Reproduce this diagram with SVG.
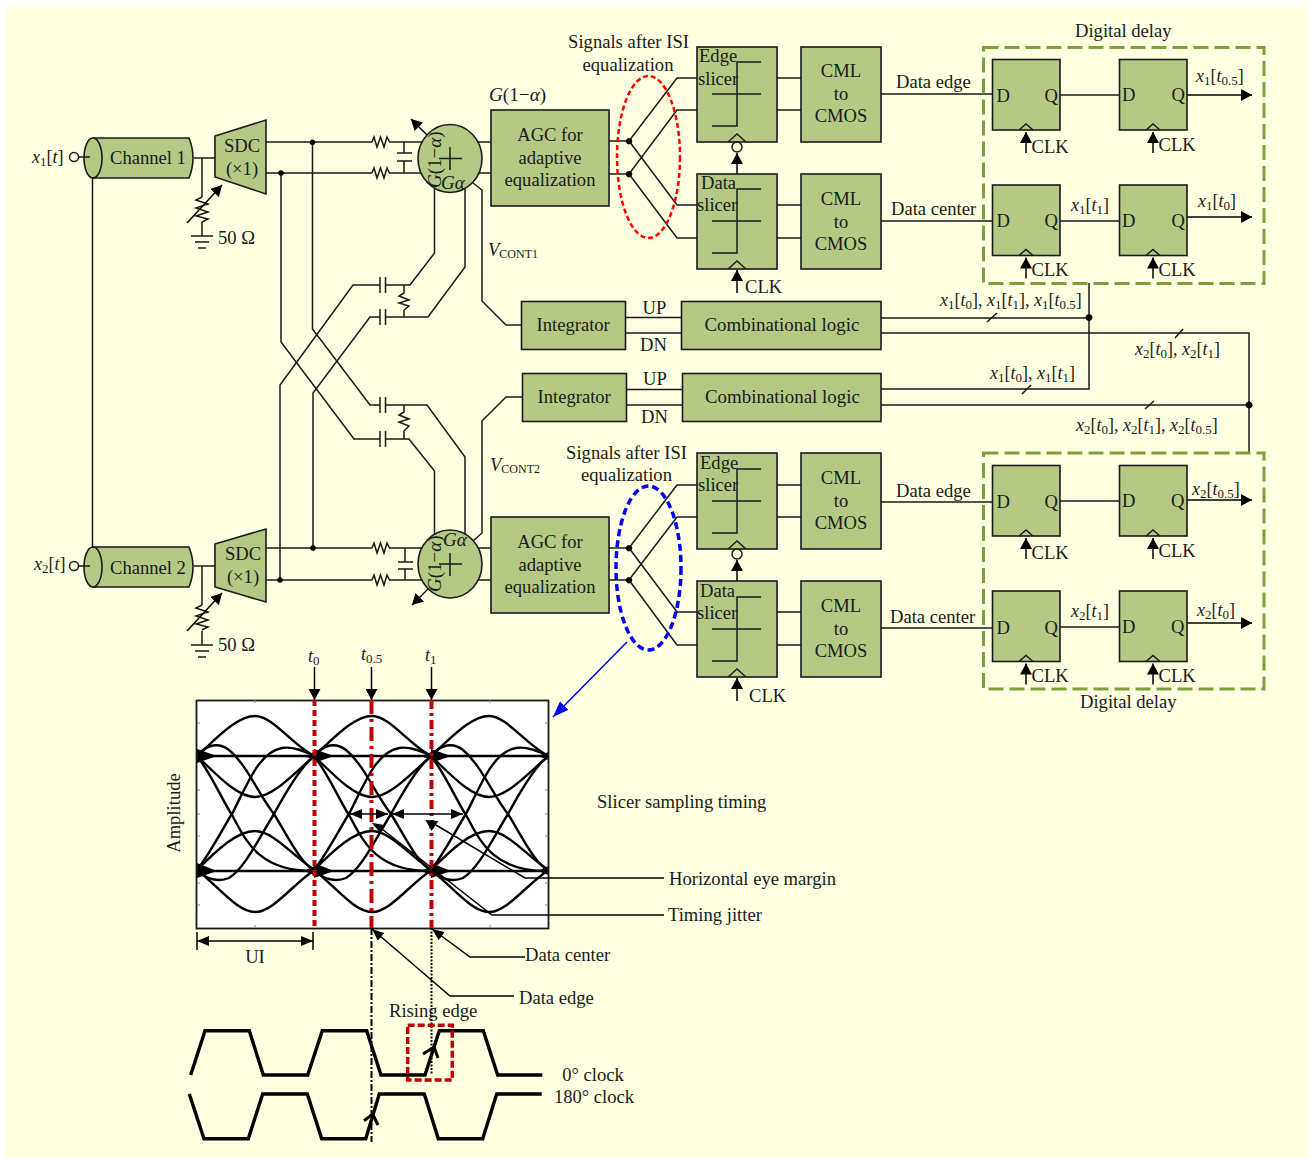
<svg xmlns="http://www.w3.org/2000/svg" width="1314" height="1158" viewBox="0 0 1314 1158">
<style>
text{font-family:"Liberation Serif","Times New Roman",serif;font-size:18.6px;fill:#1a1a1a}
.c{text-anchor:middle}
.m{font-size:18px}
.i{font-style:italic}
.s{font-size:12px}
.m .s{font-size:13px}
.b{fill:#b5c985;stroke:#1a1a1a;stroke-width:1.6}
.w{fill:none;stroke:#1a1a1a;stroke-width:1.5}
.k{fill:none;stroke:#000;stroke-width:1.5}
.d{fill:#000}
.g{fill:none;stroke:#7f9f3f;stroke-width:3;stroke-dasharray:15 6}
.clk{fill:none;stroke:#000;stroke-width:3.4;stroke-linejoin:miter}
.tr{fill:none;stroke:#000;stroke-width:2.4}
.rd{fill:none;stroke:#c00000;stroke-width:4}
.tk{fill:none;stroke:#888;stroke-width:1}
</style>
<defs>
<marker id="ah" viewBox="0 0 12 10" refX="12" refY="5" markerWidth="12" markerHeight="10" markerUnits="userSpaceOnUse" orient="auto-start-reverse"><path d="M0 0L12 5L0 10Z" fill="#000"/></marker>
<marker id="al" viewBox="0 0 11 12" refX="11" refY="6" markerWidth="11" markerHeight="12" markerUnits="userSpaceOnUse" orient="auto-start-reverse"><path d="M0 0L11 6L0 12Z" fill="#000"/></marker>
<marker id="ab" viewBox="0 0 16 12" refX="16" refY="6" markerWidth="16" markerHeight="12" markerUnits="userSpaceOnUse" orient="auto-start-reverse"><path d="M0 0L16 6L0 12Z" fill="#0000ff"/></marker>
<path id="rh" class="w" d="M0 0L2 -5L5 5L8.5 -5L12 5L15 -5L17.5 0L19 0"/>
<g id="slc"><path class="w" d="M64 15H40V79H15M15 47H64"/><path class="w" d="M31 95L40 87L49 95"/></g>
<g id="ckin"><path class="w" d="M-7 0L0 -6L7 0"/><path class="k" d="M0 23V2" marker-end="url(#al)"/></g>
<g id="gnd"><path class="w" d="M0 0V14M-11 14H11M-7 20H7M-4 26H4"/></g>
<g id="var"><path class="w" d="M0 0L-6 3L6 7L-6 11L6 15L-6 19L6 22L0 25"/><path class="k" d="M-15 26L20 -12" marker-end="url(#al)"/></g>
<g id="ui">
<path class="tr" d="M0 756C20 738 40 716 58 716C76 716 95 745 117.500 756M0 870C20 885 40 912 58 912C76 912 95 885 117.500 870M0 756H117.500M0 871H117.500"/>
<path class="tr" d="M0 756C20 775 40 797 58 797C76 797 95 775 117.500 756M0 870C20 850 40 831 58 831C76 831 95 855 117.500 870"/>
<path class="tr" d="M0 756C15 775 25 800 35 815C48 838 60 872 117.500 871M0 756C10 744 22 742 32 750C50 765 62 795 77 814C90 835 105 866 117.500 870"/>
<path class="tr" d="M0 870C12 855 25 830 36 812C50 785 62 752 85 748C95 746 110 752 117.500 756M0 870C10 880 22 882 32 878C48 868 62 838 77 814C90 790 105 765 117.500 756"/>
<path class="d" d="M0 749L20 756L0 763ZM117.500 752L107 756L117.500 760ZM0 863L20 871L0 878ZM117.500 866L107 871L117.500 875Z"/>
</g>
</defs>
<rect width="1314" height="1158" fill="#fff"/>
<rect x="6" y="6" width="1302" height="1152" fill="#ffffe1"/>

<g id="connectors">
<path class="w" d="M92.500 178V547M194 158H215M202 158V197M194 566H215M202 566V605"/>
<path class="w" d="M266 142H372M391 142H422M266 173H372M391 173H422M404 142V153M404 161V173M397 153H412M397 161H412"/>
<path class="w" d="M266 548H372M391 548H422M266 580H372M391 580H422M405 548V562M405 569V580M398 562H413M398 569H413"/>
<use href="#rh" x="372" y="142"/><use href="#rh" x="372" y="173"/><use href="#rh" x="372" y="548"/><use href="#rh" x="372" y="580"/>
<path class="w" d="M478 142H491M478 173H491M478 548H491M478 580H491"/>
<path class="w" d="M434.500 188V253L410 285H385.500M380 285H353L280 385V580"/>
<path class="w" d="M465 188V267L428 317H385.500M380 317H370L313 393V548"/>
<path class="w" d="M312.500 142V329L370 405H380M385.500 405H427L465 457V535"/>
<path class="w" d="M281 173V342L354 439H380M385.500 439H409L434.500 471V535"/>
<path class="w" d="M380 277V293M385.500 277V293M380 309V325M385.500 309V325M380 397V413M385.500 397V413M380 431V447M385.500 431V447"/>
<path class="w" d="M404 285V293L399 296L409 300L399 303L409 306L404 310V317M404 405V412L399 415L409 419L399 422L409 426L404 431V439"/>
<path class="w" d="M473 183L482 190V301L506 325H521.500M473 541L482 533V421L506 397H522"/>
<path class="k" d="M427 135L411 119" marker-end="url(#al)"/>
<path class="k" d="M428 589L412 605" marker-end="url(#al)"/>
<path class="w" d="M609 141H629L677 78H697M609 174H629L677 110H697M629 141L677 205H697M629 174L677 238H697"/>
<path class="w" d="M609 548H629L677 485H697M609 580H629L677 517H697M629 548L677 612H697M629 580L677 645H697"/>
<path class="w" d="M777 78H801M777 110H801M777 205H801M777 238H801M777 485H801M777 517H801M777 612H801M777 645H801"/>
<path class="w" d="M881 94H992M1060 95H1120M881 221H992M1060 221H1120M881 502H992M1060 501H1120M881 628H992M1060 627H1120"/>
<path class="k" d="M1187 95H1252" marker-end="url(#al)"/><path class="k" d="M1187 217H1252" marker-end="url(#al)"/>
<path class="k" d="M1187 500H1252" marker-end="url(#al)"/><path class="k" d="M1187 623H1252" marker-end="url(#al)"/>
<path class="w" d="M625 317.500H682M625 333H682M626 389.500H683M626 405H683"/>
<path class="w" d="M881 318H1089M881 333H1249V452M881 389H1089V283M881 405H1249"/>
<path class="w" d="M987 322L997 313M1175 338L1183 329M1022 394L1031 385M1145 409L1154 401"/>
<path class="k" d="M737 174V153" marker-end="url(#al)"/><path class="k" d="M737 293V270" marker-end="url(#al)"/>
<path class="k" d="M737 581V560" marker-end="url(#al)"/><path class="k" d="M737 701V678" marker-end="url(#al)"/>
<path d="M627 642L553 717" fill="none" stroke="#0000ff" stroke-width="1.500" marker-end="url(#ab)"/>
<path class="d" d="M312.500 139.500a2.800 2.800 0 1 0 .01 0ZM281 170.200a2.800 2.800 0 1 0 .01 0ZM313 545.200a2.800 2.800 0 1 0 .01 0ZM280 577.200a2.800 2.800 0 1 0 .01 0ZM629 138a3.200 3.200 0 1 0 .01 0ZM629 171a3.200 3.200 0 1 0 .01 0ZM629 545a3.200 3.200 0 1 0 .01 0ZM629 577a3.200 3.200 0 1 0 .01 0ZM1089 314a3.500 3.500 0 1 0 .01 0ZM1249 401.500a3.500 3.500 0 1 0 .01 0Z"/>
</g>

<g id="ch1"><path class="b" d="M93 138H189Q197 158 189 178H93Z"/><ellipse class="b" cx="93" cy="158" rx="9" ry="20"/><circle cx="74" cy="157" r="4.500" fill="none" stroke="#1a1a1a" stroke-width="1.500"/><path class="w" d="M78.500 157H90"/><text x="110" y="164">Channel 1</text><text class="m" x="32" y="163"><tspan class="i">x</tspan><tspan class="s" dy="3">1</tspan><tspan dy="-3">[</tspan><tspan class="i">t</tspan>]</text></g>
<g id="ch2"><path class="b" d="M93 547H189Q197 567 189 587H93Z"/><ellipse class="b" cx="93" cy="567" rx="9" ry="20"/><circle cx="74" cy="566" r="4.500" fill="none" stroke="#1a1a1a" stroke-width="1.500"/><path class="w" d="M78.500 566H90"/><text x="110" y="574">Channel 2</text><text class="m" x="34" y="570"><tspan class="i">x</tspan><tspan class="s" dy="3">2</tspan><tspan dy="-3">[</tspan><tspan class="i">t</tspan>]</text></g>
<g id="sdc1"><path class="b" d="M215 136L266 120V194L215 177Z"/><text class="c" x="242" y="152">SDC</text><text class="c" x="242" y="175">(×1)</text></g>
<g id="sdc2"><path class="b" d="M215 544L266 529V602L215 587Z"/><text class="c" x="243" y="560">SDC</text><text class="c" x="243" y="583">(×1)</text></g>
<g id="r1"><use href="#var" x="202" y="197"/><use href="#gnd" x="202" y="222"/><text x="218" y="244">50 Ω</text></g>
<g id="r2"><use href="#var" x="202" y="605"/><use href="#gnd" x="202" y="631"/><text x="218" y="651">50 Ω</text></g>
<g id="mix1"><ellipse class="b" cx="450" cy="158.500" rx="32" ry="34"/><path class="w" d="M439 158.500H462M450 147V170"/><text class="i" x="441" y="189" style="font-size:19px">Gα</text><text transform="translate(441,188) rotate(-90)" style="font-size:19px"><tspan class="i">G</tspan>(1−<tspan class="i">α</tspan>)</text></g>
<g id="mix2"><ellipse class="b" cx="450" cy="564" rx="32" ry="34"/><path class="w" d="M439 564H462M450 553V576"/><text class="i" x="443" y="546" style="font-size:19px">Gα</text><text transform="translate(441,592) rotate(-90)" style="font-size:19px"><tspan class="i">G</tspan>(1−<tspan class="i">α</tspan>)</text></g>
<g id="agc1"><rect class="b" x="491" y="110" width="118" height="96"/><text class="c" x="550" y="141">AGC for</text><text class="c" x="550" y="164">adaptive</text><text class="c" x="550" y="186">equalization</text></g>
<g id="agc2"><rect class="b" x="491" y="517" width="118" height="96"/><text class="c" x="550" y="548">AGC for</text><text class="c" x="550" y="571">adaptive</text><text class="c" x="550" y="593">equalization</text></g>
<g id="int1"><rect class="b" x="521.500" y="301.500" width="104" height="48"/><text x="536.500" y="331">Integrator</text></g>
<g id="int2"><rect class="b" x="522.500" y="373.500" width="104" height="48"/><text x="537.500" y="403">Integrator</text></g>
<g id="cl1"><rect class="b" x="681.500" y="301.500" width="199.500" height="48"/><text x="704.500" y="331" style="font-size:18.900px">Combinational logic</text></g>
<g id="cl2"><rect class="b" x="682.500" y="373.500" width="198.500" height="48"/><text x="705" y="403" style="font-size:18.900px">Combinational logic</text></g>
<g id="sl1"><rect class="b" x="697" y="47" width="80" height="95"/><use href="#slc" x="697" y="47"/><text x="699" y="62">Edge</text><text x="698" y="85">slicer</text></g>
<g id="sl2"><rect class="b" x="697" y="174" width="80" height="95"/><use href="#slc" x="697" y="174"/><text x="701" y="189">Data</text><text x="697" y="211">slicer</text></g>
<g id="sl3"><rect class="b" x="697" y="453" width="80" height="96"/><use href="#slc" x="697" y="454"/><text x="700" y="469">Edge</text><text x="698" y="491">slicer</text></g>
<g id="sl4"><rect class="b" x="697" y="581" width="80" height="96"/><use href="#slc" x="697" y="582"/><text x="700" y="597">Data</text><text x="697" y="619">slicer</text></g>
<circle cx="737" cy="147" r="5" fill="none" stroke="#1a1a1a" stroke-width="1.500"/><circle cx="737" cy="554" r="5" fill="none" stroke="#1a1a1a" stroke-width="1.500"/>
<text x="745" y="293">CLK</text><text x="749" y="702">CLK</text>
<g id="cml1"><rect class="b" x="801" y="47" width="80" height="95"/><text class="c" x="841" y="77">CML</text><text class="c" x="841" y="100">to</text><text class="c" x="841" y="122">CMOS</text></g>
<g id="cml2"><rect class="b" x="801" y="174" width="80" height="95"/><text class="c" x="841" y="205">CML</text><text class="c" x="841" y="228">to</text><text class="c" x="841" y="250">CMOS</text></g>
<g id="cml3"><rect class="b" x="801" y="453" width="80" height="96"/><text class="c" x="841" y="484">CML</text><text class="c" x="841" y="507">to</text><text class="c" x="841" y="529">CMOS</text></g>
<g id="cml4"><rect class="b" x="801" y="581" width="80" height="96"/><text class="c" x="841" y="612">CML</text><text class="c" x="841" y="635">to</text><text class="c" x="841" y="657">CMOS</text></g>

<g id="ff1"><rect class="b" x="992.500" y="59.500" width="67.500" height="70.500"/><text x="996.500" y="102">D</text><text x="1044.500" y="102">Q</text><use href="#ckin" x="1026" y="130"/><text x="1031.500" y="153">CLK</text></g>
<g id="ff2"><rect class="b" x="1119.500" y="59.500" width="67.500" height="70.500"/><text x="1122" y="101">D</text><text x="1171.500" y="101">Q</text><use href="#ckin" x="1153" y="130"/><text x="1158.500" y="151">CLK</text></g>
<g id="ff3"><rect class="b" x="992.500" y="185" width="67.500" height="70.500"/><text x="996.500" y="227">D</text><text x="1044.500" y="227">Q</text><use href="#ckin" x="1026" y="255.500"/><text x="1031.500" y="276">CLK</text></g>
<g id="ff4"><rect class="b" x="1119.500" y="185" width="67.500" height="70.500"/><text x="1122" y="227">D</text><text x="1171.500" y="227">Q</text><use href="#ckin" x="1153" y="255.500"/><text x="1158.500" y="276">CLK</text></g>
<g id="ff5"><rect class="b" x="992.500" y="465.500" width="67.500" height="70.500"/><text x="996.500" y="508">D</text><text x="1044.500" y="508">Q</text><use href="#ckin" x="1026" y="536"/><text x="1031.500" y="559">CLK</text></g>
<g id="ff6"><rect class="b" x="1119.500" y="465.500" width="67.500" height="70.500"/><text x="1122" y="507">D</text><text x="1171" y="507">Q</text><use href="#ckin" x="1153" y="536"/><text x="1158.500" y="557">CLK</text></g>
<g id="ff7"><rect class="b" x="992.500" y="591" width="67.500" height="70.500"/><text x="996.500" y="634">D</text><text x="1044.500" y="634">Q</text><use href="#ckin" x="1026" y="661.500"/><text x="1031.500" y="682">CLK</text></g>
<g id="ff8"><rect class="b" x="1119.500" y="591" width="67.500" height="70.500"/><text x="1122" y="633">D</text><text x="1171" y="633">Q</text><use href="#ckin" x="1153" y="661.500"/><text x="1158.500" y="682">CLK</text></g>
<g id="delay1"><rect class="g" x="983.500" y="47.500" width="280.500" height="236"/><text x="1075" y="37">Digital delay</text></g>
<g id="delay2"><rect class="g" x="983.500" y="453" width="280.500" height="236"/><text x="1080" y="708">Digital delay</text></g>
<ellipse id="isi1" cx="648.500" cy="157" rx="31.500" ry="81" fill="none" stroke="#ff0000" stroke-width="2.500" stroke-dasharray="5 3"/>
<ellipse id="isi2" cx="648.500" cy="568" rx="32.500" ry="82" fill="none" stroke="#0000ff" stroke-width="3.500" stroke-dasharray="7 4"/>

<g id="labels">
<text class="c" x="628.500" y="48">Signals after ISI</text><text class="c" x="628" y="71">equalization</text>
<text class="c" x="626.500" y="459">Signals after ISI</text><text class="c" x="626.500" y="481">equalization</text>
<text x="489" y="101" style="font-size:19.200px"><tspan class="i">G</tspan>(1−<tspan class="i">α</tspan>)</text>
<text x="488" y="256"><tspan class="i">V</tspan><tspan class="s" dy="2">CONT1</tspan></text>
<text x="490" y="471"><tspan class="i">V</tspan><tspan class="s" dy="2">CONT2</tspan></text>
<text x="642.500" y="314">UP</text><text x="640" y="351">DN</text><text x="643" y="385">UP</text><text x="641" y="423">DN</text>
<text x="896" y="88">Data edge</text><text x="891" y="215">Data center</text><text x="896" y="497">Data edge</text><text x="890" y="623">Data center</text>
<text class="m" x="1196" y="82"><tspan class="i">x</tspan><tspan class="s" dy="3">1</tspan><tspan dy="-3">[</tspan><tspan class="i">t</tspan><tspan class="s" dy="3">0.5</tspan><tspan dy="-3">]</tspan></text>
<text class="m" x="1071" y="211"><tspan class="i">x</tspan><tspan class="s" dy="3">1</tspan><tspan dy="-3">[</tspan><tspan class="i">t</tspan><tspan class="s" dy="3">1</tspan><tspan dy="-3">]</tspan></text>
<text class="m" x="1198" y="207"><tspan class="i">x</tspan><tspan class="s" dy="3">1</tspan><tspan dy="-3">[</tspan><tspan class="i">t</tspan><tspan class="s" dy="3">0</tspan><tspan dy="-3">]</tspan></text>
<text class="m" x="1192" y="495"><tspan class="i">x</tspan><tspan class="s" dy="3">2</tspan><tspan dy="-3">[</tspan><tspan class="i">t</tspan><tspan class="s" dy="3">0.5</tspan><tspan dy="-3">]</tspan></text>
<text class="m" x="1071" y="617"><tspan class="i">x</tspan><tspan class="s" dy="3">2</tspan><tspan dy="-3">[</tspan><tspan class="i">t</tspan><tspan class="s" dy="3">1</tspan><tspan dy="-3">]</tspan></text>
<text class="m" x="1197" y="616"><tspan class="i">x</tspan><tspan class="s" dy="3">2</tspan><tspan dy="-3">[</tspan><tspan class="i">t</tspan><tspan class="s" dy="3">0</tspan><tspan dy="-3">]</tspan></text>
<text class="m" x="940" y="306"><tspan class="i">x</tspan><tspan class="s" dy="3">1</tspan><tspan dy="-3">[</tspan><tspan class="i">t</tspan><tspan class="s" dy="3">0</tspan><tspan dy="-3">], </tspan><tspan class="i">x</tspan><tspan class="s" dy="3">1</tspan><tspan dy="-3">[</tspan><tspan class="i">t</tspan><tspan class="s" dy="3">1</tspan><tspan dy="-3">], </tspan><tspan class="i">x</tspan><tspan class="s" dy="3">1</tspan><tspan dy="-3">[</tspan><tspan class="i">t</tspan><tspan class="s" dy="3">0.5</tspan><tspan dy="-3">]</tspan></text>
<text class="m" x="1135" y="355"><tspan class="i">x</tspan><tspan class="s" dy="3">2</tspan><tspan dy="-3">[</tspan><tspan class="i">t</tspan><tspan class="s" dy="3">0</tspan><tspan dy="-3">], </tspan><tspan class="i">x</tspan><tspan class="s" dy="3">2</tspan><tspan dy="-3">[</tspan><tspan class="i">t</tspan><tspan class="s" dy="3">1</tspan><tspan dy="-3">]</tspan></text>
<text class="m" x="990" y="379"><tspan class="i">x</tspan><tspan class="s" dy="3">1</tspan><tspan dy="-3">[</tspan><tspan class="i">t</tspan><tspan class="s" dy="3">0</tspan><tspan dy="-3">], </tspan><tspan class="i">x</tspan><tspan class="s" dy="3">1</tspan><tspan dy="-3">[</tspan><tspan class="i">t</tspan><tspan class="s" dy="3">1</tspan><tspan dy="-3">]</tspan></text>
<text class="m" x="1076" y="431"><tspan class="i">x</tspan><tspan class="s" dy="3">2</tspan><tspan dy="-3">[</tspan><tspan class="i">t</tspan><tspan class="s" dy="3">0</tspan><tspan dy="-3">], </tspan><tspan class="i">x</tspan><tspan class="s" dy="3">2</tspan><tspan dy="-3">[</tspan><tspan class="i">t</tspan><tspan class="s" dy="3">1</tspan><tspan dy="-3">], </tspan><tspan class="i">x</tspan><tspan class="s" dy="3">2</tspan><tspan dy="-3">[</tspan><tspan class="i">t</tspan><tspan class="s" dy="3">0.5</tspan><tspan dy="-3">]</tspan></text>
</g>

<g id="eye">
<rect x="196.500" y="700.500" width="352" height="228" fill="#fff"/>
<use href="#ui" x="197"/><use href="#ui" x="314"/><use href="#ui" x="431"/>
<rect x="196.500" y="700.500" width="352" height="228" fill="none" stroke="#1a1a1a" stroke-width="1.800"/>
<path class="tk" d="M255 700V703M373 700V703M490 700V703M255 928V925M490 928V925M197 723H200M197 790H200M197 814H200M197 836H200M197 883H200M197 905H200M548 723H545M548 790H545M548 814H545M548 836H545M548 883H545M548 905H545"/>
<path class="rd" d="M314.500 700V928" stroke-dasharray="6 4"/>
<path class="rd" d="M371.500 700V928" stroke-dasharray="14 5 3 5"/>
<path class="rd" d="M431.500 700V928" stroke-dasharray="9 4 3 4"/>
<path class="k" d="M314.500 667V700" marker-end="url(#al)"/><path class="k" d="M371.500 667V700" marker-end="url(#al)"/><path class="k" d="M431.500 667V700" marker-end="url(#al)"/>
<text class="m" x="308" y="662"><tspan class="i">t</tspan><tspan class="s" dy="3">0</tspan></text>
<text class="m" x="361" y="660"><tspan class="i">t</tspan><tspan class="s" dy="3">0.5</tspan></text>
<text class="m" x="425" y="661"><tspan class="i">t</tspan><tspan class="s" dy="3">1</tspan></text>
<path class="k" d="M350 814H388" marker-start="url(#ah)" marker-end="url(#ah)"/>
<path class="k" d="M392 814H463" marker-start="url(#ah)" marker-end="url(#ah)"/>
<path class="k" d="M664 878H525L436 825"/><path class="d" d="M425.500 820L438.500 821L431.500 831Z"/>
<path class="k" d="M664 915H492L382 829"/><path class="d" d="M371.700 822.700L384 825L380 832.700Z"/>
<text x="669" y="885">Horizontal eye margin</text><text x="668" y="921">Timing jitter</text>
<text x="597" y="808">Slicer sampling timing</text>
<text class="c" transform="translate(180,813) rotate(-90)">Amplitude</text>
<path class="k" d="M197 932V950M313 932V950"/><path class="k" d="M197 941H313" marker-start="url(#ah)" marker-end="url(#ah)"/>
<text class="c" x="255" y="963">UI</text>
<path class="k" d="M525 957H470L432 929" marker-end="url(#ah)"/>
<path class="k" d="M514 996H450L372 929" marker-end="url(#ah)"/>
<text x="525" y="961">Data center</text><text x="519" y="1004">Data edge</text>
</g>

<g id="clocks">
<path class="k" d="M371.500 928V1142" style="stroke-width:2" stroke-dasharray="7 2 2 2"/>
<path class="k" d="M431.500 928V1074" style="stroke-width:2" stroke-dasharray="2 1.500"/>
<text x="389" y="1017">Rising edge</text>
<path class="clk" d="M190.700 1075L205 1030.700H249.300L263.300 1075H307.700L322.300 1030.700H366.700L381 1075H425L439.300 1030.700H483.300L497.700 1075H542.300"/>
<path class="clk" d="M189.300 1094L204 1138.700H248.300L262.700 1094H307.300L321.700 1138.700H365.700L379.300 1094H424.300L438.300 1138.700H482.700L496.700 1094H541.700"/>
<path fill="none" stroke="#000" stroke-width="3" d="M423 1054L434 1047L438 1058M364 1120.700L372.700 1114L378 1125"/>
<rect x="407.700" y="1025.300" width="44.600" height="54.700" fill="none" stroke="#c00000" stroke-width="3.500" stroke-dasharray="7 3"/>
<text class="c" x="593" y="1081">0° clock</text><text class="c" x="594" y="1103">180° clock</text>
</g>
</svg>
